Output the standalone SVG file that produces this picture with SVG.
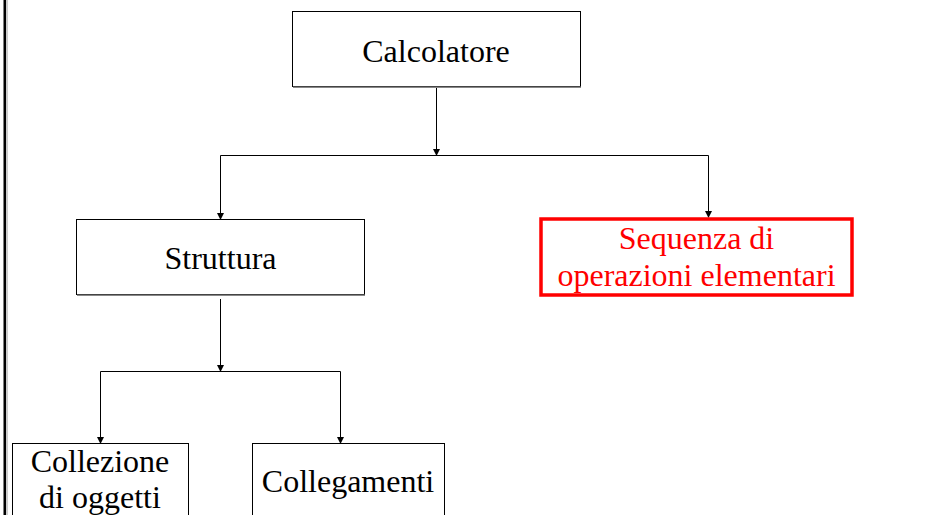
<svg xmlns="http://www.w3.org/2000/svg" width="951" height="515" viewBox="0 0 951 515">
<defs>
<style>
.box{fill:#fff;stroke:#000;stroke-width:1}
.shadow{stroke:#888;stroke-width:1.5;fill:none}
.red{fill:#fff;stroke:#f00;stroke-width:3.5}
.t{font-family:"Liberation Serif","Times New Roman",serif;font-size:32px;text-anchor:middle;fill:#000}
.tr{fill:#f00}
.c{stroke:#000;stroke-width:1;fill:none}
</style>
<marker id="ah" markerWidth="7" markerHeight="8" refX="6" refY="4" orient="auto" markerUnits="userSpaceOnUse">
<path d="M0,0.5 L7,4 L0,7.5 Z" fill="#000"/>
</marker>
</defs>
<rect width="951" height="515" fill="#fff"/>
<rect x="3.5" y="0" width="2.5" height="515" fill="#000"/>
<line x1="7" y1="0" x2="7" y2="515" stroke="#999" stroke-width="1"/>
<g id="connectors">
<path class="c" d="M436.5,88 V155" marker-end="url(#ah)"/>
<path class="c" d="M220.5,155.5 H708.5"/>
<path class="c" d="M220.5,155.5 V219" marker-end="url(#ah)"/>
<path class="c" d="M708.5,155.5 V217" marker-end="url(#ah)"/>
<path class="c" d="M220.5,299 V371" marker-end="url(#ah)"/>
<path class="c" d="M100.5,371.5 H340.5"/>
<path class="c" d="M100.5,371.5 V443" marker-end="url(#ah)"/>
<path class="c" d="M340.5,371.5 V443" marker-end="url(#ah)"/>
</g>
<g id="calcolatore">
<rect class="box" x="292.5" y="11.5" width="288" height="75"/>
<line class="shadow" x1="293" y1="87.2" x2="581" y2="87.2"/>
<text class="t" x="436" y="62">Calcolatore</text>
</g>
<g id="struttura">
<rect class="box" x="76.5" y="219.5" width="288" height="75"/>
<line class="shadow" x1="77" y1="295.2" x2="365" y2="295.2"/>
<text class="t" x="220.5" y="269">Struttura</text>
</g>
<g id="sequenza">
<rect class="red" x="541" y="219" width="311" height="76"/>
<text class="t tr" x="696.5" y="249">Sequenza di</text>
<text class="t tr" x="696.5" y="286">operazioni elementari</text>
</g>
<g id="collezione">
<rect class="box" x="12.5" y="443.5" width="176" height="90"/>
<text class="t" x="100" y="472">Collezione</text>
<text class="t" x="100" y="508">di oggetti</text>
</g>
<g id="collegamenti">
<rect class="box" x="252.5" y="443.5" width="192" height="90"/>
<text class="t" x="348" y="492">Collegamenti</text>
</g>
</svg>
